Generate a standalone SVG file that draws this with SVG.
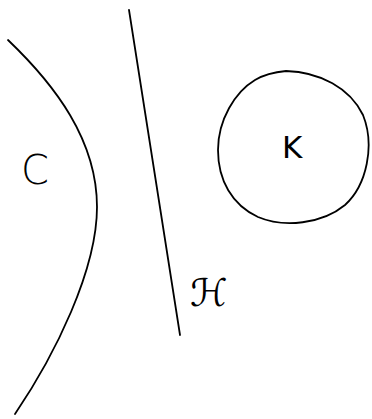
<svg xmlns="http://www.w3.org/2000/svg" width="372" height="419" viewBox="0 0 372 419">
<style>
.s{fill:none;stroke:#000;stroke-width:1.8;stroke-linecap:round;stroke-linejoin:round}
.t{fill:#000;font-family:"DejaVu Sans","Liberation Sans",sans-serif}
</style>
<rect width="372" height="419" fill="#fff"/>
<g id="curve-C">
<path class="s" d="M8,40 C55,85 97,140 97,207 C97,270 55,355 15,414"/>
<text class="t" x="21" y="184" font-size="40" font-weight="300">C</text>
</g>
<g id="line-H">
<path class="s" d="M129,10 L180,335"/>
<text class="t" x="190" y="306" font-size="38" font-family="'DejaVu Serif',serif">ℋ</text>
</g>
<g id="circle-K">
<path class="s" d="M286,71 C320,72 350,88 363,115 C375,145 367,185 345,205 C322,224 284,228 258,217 C232,205 218,180 218,150 C218,120 235,92 255,80 C265,74 275,72 286,71 Z"/>
<text class="t" x="282" y="158" font-size="31">K</text>
</g>
<g id="connectors"></g>
</svg>
